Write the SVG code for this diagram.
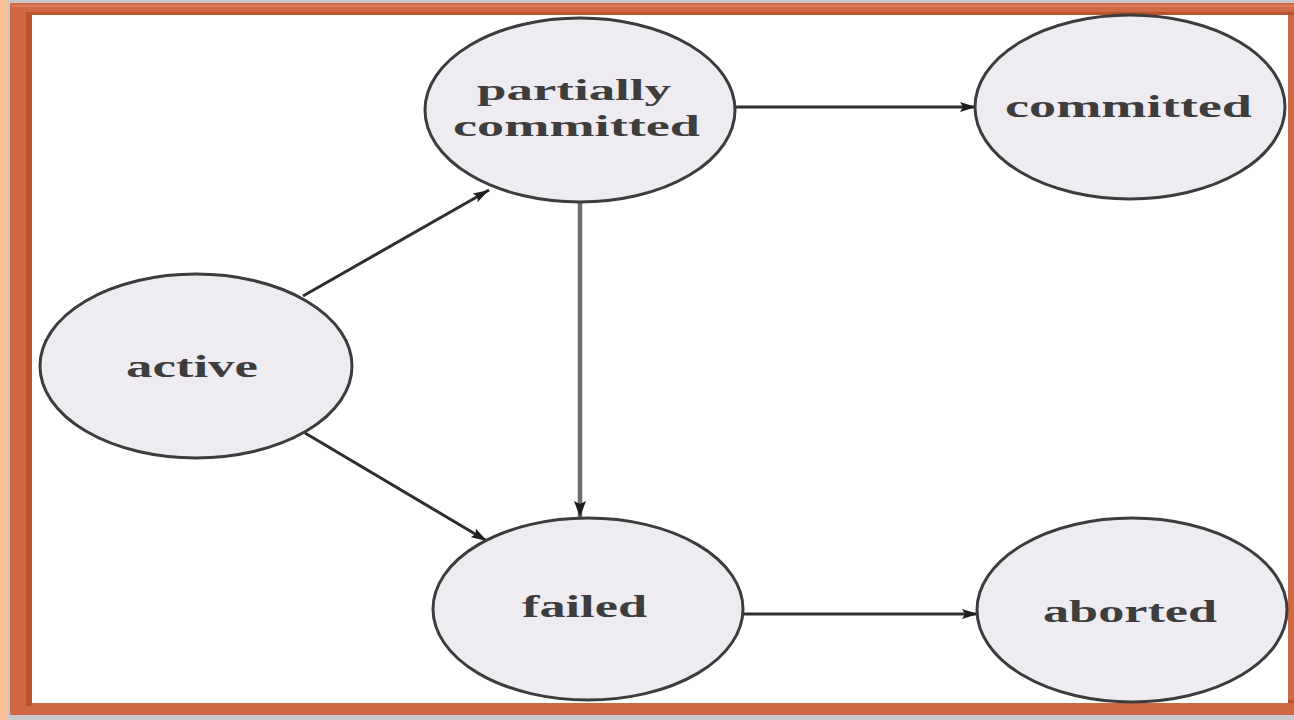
<svg xmlns="http://www.w3.org/2000/svg" width="1294" height="720" viewBox="0 0 1294 720">
  <style>
    .node ellipse { fill: #efecf1; stroke: #3c3c3c; stroke-width: 3; }
    .node text { font-family: "Liberation Serif", "DejaVu Serif", serif; font-size: 31px; font-weight: bold; fill: #3d3d3d; text-anchor: start; }
    .node text.two { font-size: 29px; }
    .edge { stroke: #2e2e2e; stroke-width: 3; fill: none; marker-end: url(#arrow); }
    .edge.gray { stroke: #6e6e6e; stroke-width: 4.5; marker-end: url(#arrowG); }
  </style>
  <defs>
    <marker id="arrow" viewBox="0 0 16 10" refX="16" refY="5" markerWidth="16" markerHeight="10" markerUnits="userSpaceOnUse" orient="auto">
      <path d="M0,0 L16,5 L0,10 L3,5 Z" fill="#1e1e1e"/>
    </marker>
    <marker id="arrowG" viewBox="0 0 16 12" refX="16" refY="6" markerWidth="16" markerHeight="12" markerUnits="userSpaceOnUse" orient="auto">
      <path d="M0,0 L16,6 L0,12 L3,6 Z" fill="#1e1e1e"/>
    </marker>
  </defs>

  <!-- background and frame -->
  <rect x="0" y="0" width="1294" height="720" fill="#c9c9cb"/>
  <rect x="0" y="0" width="8" height="720" fill="#fbbf98"/>
  <rect x="10" y="3" width="1284" height="712" fill="#cf6844"/>
  <rect x="12" y="5" width="1282" height="2" fill="#e07a55"/>
  <rect x="26" y="12" width="6" height="694" fill="#b8532f"/>
  <rect x="26" y="12" width="1268" height="3" fill="#b8532f"/>
  <rect x="26" y="700" width="1268" height="3" fill="#b8532f"/>
  <rect x="32" y="15" width="1256" height="688" fill="#ffffff"/>

  <g id="connectors">
    <line class="edge" x1="303" y1="296" x2="489" y2="190"/>
    <line class="edge" x1="305" y1="433" x2="487" y2="541"/>
    <line class="edge gray" x1="580" y1="203" x2="580" y2="517"/>
    <line class="edge" x1="735" y1="107" x2="976" y2="107"/>
    <line class="edge" x1="743" y1="614" x2="978" y2="614"/>
  </g>

  <g id="node-partially-committed" class="node">
    <ellipse cx="580" cy="110" rx="155" ry="92"/>
    <text class="two" x="477" y="100" textLength="194" lengthAdjust="spacingAndGlyphs">partially</text>
    <text class="two" x="453" y="136" textLength="247" lengthAdjust="spacingAndGlyphs">committed</text>
  </g>
  <g id="node-committed" class="node">
    <ellipse cx="1130" cy="107" rx="155" ry="92"/>
    <text x="1005" y="117" textLength="247" lengthAdjust="spacingAndGlyphs">committed</text>
  </g>
  <g id="node-active" class="node">
    <ellipse cx="196" cy="366" rx="156" ry="92"/>
    <text x="126" y="377" textLength="132" lengthAdjust="spacingAndGlyphs">active</text>
  </g>
  <g id="node-failed" class="node">
    <ellipse cx="588" cy="609" rx="155" ry="91"/>
    <text x="522" y="617" textLength="125" lengthAdjust="spacingAndGlyphs">failed</text>
  </g>
  <g id="node-aborted" class="node">
    <ellipse cx="1132" cy="610" rx="155" ry="92"/>
    <text x="1043" y="622" textLength="174" lengthAdjust="spacingAndGlyphs">aborted</text>
  </g>
</svg>
